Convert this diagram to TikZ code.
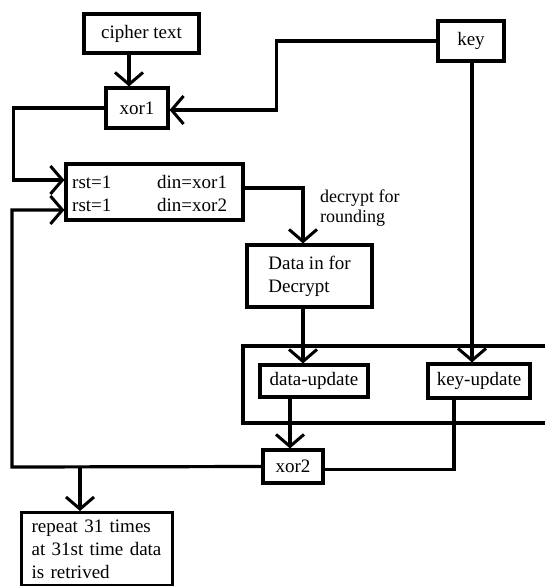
\documentclass[tikz,border=0pt]{standalone}
\usepackage{fontspec}
\setmainfont{Liberation Serif}
\usetikzlibrary{arrows.meta}
\begin{document}
\begin{tikzpicture}[x=1pt,y=-1pt,
  ln/.style={line width=3.2pt},
  arr/.style={ln,-{Straight Barb[length=12pt,width=28pt,line width=3pt]}},
  box/.style={draw,ln,inner sep=0pt,font=\fontsize{19}{23}\selectfont},
  txt/.style={inner sep=0pt,font=\fontsize{19}{23}\selectfont},
]
\useasboundingbox (0,0) rectangle (545,586);
\clip (0,0) rectangle (545,586);
% nodes
\node[box,minimum width=115pt,minimum height=39pt] (cipher) at (141.5,33.5) {cipher text};
\node[box,minimum width=62pt,minimum height=40pt] (xor1) at (137,108) {xor1};
\node[box,minimum width=66pt,minimum height=40pt] (key) at (471,41) {key};
\node[box,minimum width=177pt,minimum height=56pt] (rst) at (154.5,192) {};
\node[txt,anchor=west] (r1) at (72,182) {rst=1};
\node[txt,anchor=west] (d1) at (157,182) {din=xor1};
\node[txt,anchor=west] (r2) at (72,205) {rst=1};
\node[txt,anchor=west] (d2) at (157,205) {din=xor2};
\node[txt,anchor=north west,align=left,font=\fontsize{18}{20}\selectfont] (lab) at (320,190) {decrypt for\\rounding};
\node[box,minimum width=125pt,minimum height=62pt,align=left] (data) at (309.5,276) {Data in for\\Decrypt};
\draw[ln] (243,346) rectangle (560,423);
\node[box,minimum width=108pt,minimum height=32pt] (dupd) at (314,381) {data-update};
\node[box,minimum width=102pt,minimum height=34pt] (kupd) at (479,381) {key-update};
\node[box,minimum width=60pt,minimum height=33pt] (xor2) at (293,466.5) {xor2};
\node[box,anchor=north west,text width=131pt,inner xsep=10pt,inner ysep=7pt,align=left] (rep) at (20,511) {repeat 31 times\\at 31st time data\\is retrived};
% connectors
\draw[arr] ([xshift=-12.5pt]cipher.south) -- ([xshift=-8pt]xor1.north);
\draw[arr] (key.west) -- ++(-160,0) |- ([yshift=-2pt]xor1.east);
\draw[arr] (xor1.west) -- ++(-91,0) |- ([yshift=12pt]rst.west);
\coordinate (fb) at (12,467);
\coordinate (j) at (80,467);
\draw[arr] (xor2.west) -- (fb) |- ([yshift=-18pt]rst.west);
\draw[arr] (j) -- (j |- rep.north);
\draw[arr] ([yshift=4pt]rst.east) -| ([xshift=-6.5pt]data.north);
\draw[arr] ([xshift=-6.5pt]data.south) -- ([xshift=-6.5pt]data.south |- dupd.north);
\draw[arr] ([xshift=1pt]key.south) -- ([xshift=1pt]key.south |- kupd.north);
\draw[arr] ([xshift=-24pt]dupd.south) -- ([xshift=-24pt]dupd.south |- xor2.north);
\draw[ln] ([xshift=-25pt]kupd.south) |- ([yshift=-3pt]xor2.east);
\end{tikzpicture}
\end{document}
